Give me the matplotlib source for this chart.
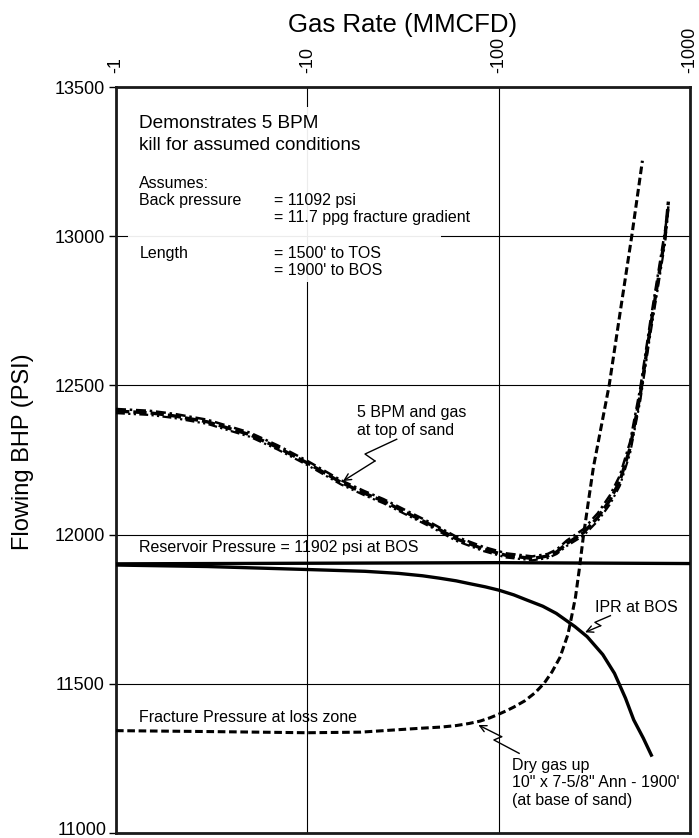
import matplotlib
matplotlib.use('Agg')
import matplotlib.pyplot as plt
from matplotlib.patches import Rectangle
from matplotlib.ticker import NullLocator

plt.rcParams['font.family'] = ['Liberation Sans', 'DejaVu Sans']

# ---------------- data ----------------
x_ticks = [1, 10, 100, 1000]
x_tick_labels = ['-1', '-10', '-100', '-1000']
y_ticks = [11000, 11500, 12000, 12500, 13000, 13500]
y_tick_labels = ['11000', '11500', '12000', '12500', '13000', '13500']

# Reservoir pressure (solid, flat)
res_x = [1, 10, 100, 1000]
res_y = [11902, 11904, 11906, 11903]

# IPR at BOS (solid)
ipr_x = [1, 3, 10, 20, 30, 40, 49, 60, 70, 85, 100, 120, 140, 170, 200, 250, 290,
         350, 403, 460, 508, 570, 628]
ipr_y = [11898, 11893, 11883, 11877, 11870, 11862, 11854, 11845, 11836, 11825,
         11814, 11798, 11781, 11760, 11736, 11692, 11658, 11598, 11535, 11452,
         11379, 11318, 11261]

# Dry gas up annulus (dashed)
dry_x = [1, 3, 10, 19, 39, 50, 60, 70, 80, 90, 100, 110, 120, 137, 155, 173, 190,
         209, 230, 240, 252, 264, 277, 295, 313, 345, 378, 435, 496, 564]
dry_y = [11343, 11340, 11336, 11338, 11351, 11355, 11360, 11367, 11375, 11386,
         11398, 11410, 11422, 11443, 11470, 11502, 11540, 11588, 11665, 11722,
         11790, 11885, 11993, 12115, 12227, 12368, 12500, 12760, 13000, 13253]

# 5 BPM and gas at top of sand (three overlapping traces)
bpm_x = [1, 1.5, 2, 3, 5, 7, 10, 15, 20, 25, 35, 45, 60, 83, 110, 150, 180, 201,
         227, 277, 330, 382, 430, 486, 550, 618, 680, 741, 771]
bpm_a_y = [12414, 12408, 12398, 12378, 12335, 12292, 12240, 12175, 12138, 12112,
           12065, 12030, 11986, 11952, 11930, 11920, 11928, 11942, 11970, 12006,
           12058, 12116, 12180, 12290, 12470, 12686, 12850, 13000, 13116]
bpm_b_y = [12421, 12415, 12405, 12385, 12342, 12299, 12247, 12182, 12145, 12119,
           12072, 12037, 11993, 11959, 11937, 11927, 11935, 11950, 11980, 12018,
           12072, 12132, 12198, 12310, 12492, 12708, 12872, 13020, 13100]
bpm_c_y = [12407, 12401, 12391, 12371, 12328, 12285, 12233, 12168, 12131, 12105,
           12058, 12023, 11979, 11945, 11923, 11914, 11921, 11935, 11962, 11996,
           12046, 12102, 12164, 12272, 12450, 12664, 12828, 12978, 13090]

# ---------------- figure ----------------
fig = plt.figure(figsize=(6.99, 8.38), dpi=100)
ax = fig.add_axes([116/699, 5/838, 574/699, 746/838])
ax.set_xscale('log')
ax.set_xlim(1, 1000)
ax.set_ylim(11000, 13500)

ax.xaxis.tick_top()
ax.set_xticks(x_ticks)
ax.set_xticklabels(x_tick_labels, rotation=90)
ax.xaxis.set_minor_locator(NullLocator())
ax.tick_params(axis='x', length=0, pad=10, labelsize=13)
ax.set_yticks(y_ticks)
# bottom label drawn separately so it is not clipped at the figure edge
ax.set_yticklabels([''] + y_tick_labels[1:])
ax.tick_params(axis='y', length=5, width=1, pad=3, labelsize=13, direction='out')
ax.text(-0.0157, 0.004, y_tick_labels[0], transform=ax.transAxes, ha='right',
        va='center', fontsize=13)

ax.grid(True, color='black', lw=0.8)
ax.set_axisbelow(True)
for s in ax.spines.values():
    s.set_linewidth(2.0)
    s.set_color('#1a1a1a')

# white panel behind the notes (hides gridlines)
ax.add_patch(Rectangle((0.021, 0.739), 0.545, 0.234, transform=ax.transAxes,
                       facecolor='white', edgecolor='none', alpha=0.93, zorder=1.5))

# curves
ax.plot(res_x, res_y, color='black', lw=2.4, solid_capstyle='butt', zorder=3)
ax.plot(ipr_x, ipr_y, color='black', lw=2.4, zorder=3)
ax.plot(dry_x, dry_y, color='black', lw=2.2, dashes=(2.5, 1.2), zorder=3)
ax.plot(bpm_x, bpm_a_y, color='black', lw=2.4, dashes=(4, 1.2), zorder=3)
ax.plot(bpm_x, bpm_b_y, color='black', lw=1.8, dashes=(4, 1.5, 1, 1.5), zorder=3)
ax.plot(bpm_x, bpm_c_y, color='black', lw=1.6, dashes=(4, 1.5, 1, 1.5, 1, 1.5), zorder=3)

# axis titles
ax.text(0.5, 1.0737, 'Gas Rate (MMCFD)', transform=ax.transAxes, ha='center',
        va='baseline', fontsize=18.5)
ax.text(-0.162, 0.511, 'Flowing BHP (PSI)', transform=ax.transAxes, ha='center',
        va='center', rotation=90, fontsize=17)

# notes
fs = 11.5
ft = 13.7
T = ax.transAxes
ax.text(0.0406, 0.9446, 'Demonstrates 5 BPM', transform=T, fontsize=ft, va='baseline', zorder=4)
ax.text(0.0406, 0.9155, 'kill for assumed conditions', transform=T, fontsize=ft, va='baseline', zorder=4)
ax.text(0.0406, 0.8642, 'Assumes:', transform=T, fontsize=fs, va='baseline', zorder=4)
ax.text(0.0406, 0.8418, 'Back pressure', transform=T, fontsize=fs, va='baseline', zorder=4)
ax.text(0.2753, 0.8418, '= 11092 psi', transform=T, fontsize=fs, va='baseline', zorder=4)
ax.text(0.2753, 0.8190, '= 11.7 ppg fracture gradient', transform=T, fontsize=fs, va='baseline', zorder=4)
ax.text(0.0406, 0.7704, 'Length', transform=T, fontsize=fs, va='baseline', zorder=4)
ax.text(0.2753, 0.7704, "= 1500' to TOS", transform=T, fontsize=fs, va='baseline', zorder=4)
ax.text(0.2753, 0.7480, "= 1900' to BOS", transform=T, fontsize=fs, va='baseline', zorder=4)

ax.text(0.0392, 0.3771, 'Reservoir Pressure = 11902 psi at BOS', transform=T, fontsize=fs, va='baseline', zorder=4)
ax.text(0.0392, 0.1492, 'Fracture Pressure at loss zone', transform=T, fontsize=fs, va='baseline', zorder=4)
ax.text(0.8343, 0.2966, 'IPR at BOS', transform=T, fontsize=fs, va='baseline', zorder=4)
ax.text(0.4193, 0.5580, '5 BPM and gas', transform=T, fontsize=fs, va='baseline', zorder=4)
ax.text(0.4193, 0.5335, 'at top of sand', transform=T, fontsize=fs, va='baseline', zorder=4)
ax.text(0.690, 0.0845, 'Dry gas up', transform=T, fontsize=fs, va='baseline', zorder=4)
ax.text(0.690, 0.0610, '10" x 7-5/8" Ann - 1900\'', transform=T, fontsize=fs, va='baseline', zorder=4)
ax.text(0.690, 0.0375, '(at base of sand)', transform=T, fontsize=fs, va='baseline', zorder=4)

# zig-zag pointers
def pointer(pts, arrow=True):
    xs = [p[0] for p in pts]
    ys = [p[1] for p in pts]
    ax.plot(xs[:-1], ys[:-1], color='black', lw=1.0, transform=T, zorder=4)
    style = '->' if arrow else '-'
    ax.annotate('', xy=pts[-1], xytext=pts[-2], xycoords=T, textcoords=T,
                arrowprops=dict(arrowstyle=style, lw=1.0, color='black',
                                shrinkA=0, shrinkB=0, mutation_scale=12), zorder=4)

pointer([(0.489, 0.5278), (0.4338, 0.5080), (0.4512, 0.4987), (0.3955, 0.4718)])
pointer([(0.8613, 0.2913), (0.8343, 0.2824), (0.8444, 0.2779), (0.8172, 0.2690)])
pointer([(0.7023, 0.1068), (0.6584, 0.1247), (0.6718, 0.1291), (0.6312, 0.1448)])

fig.savefig('out.png', dpi=100)
